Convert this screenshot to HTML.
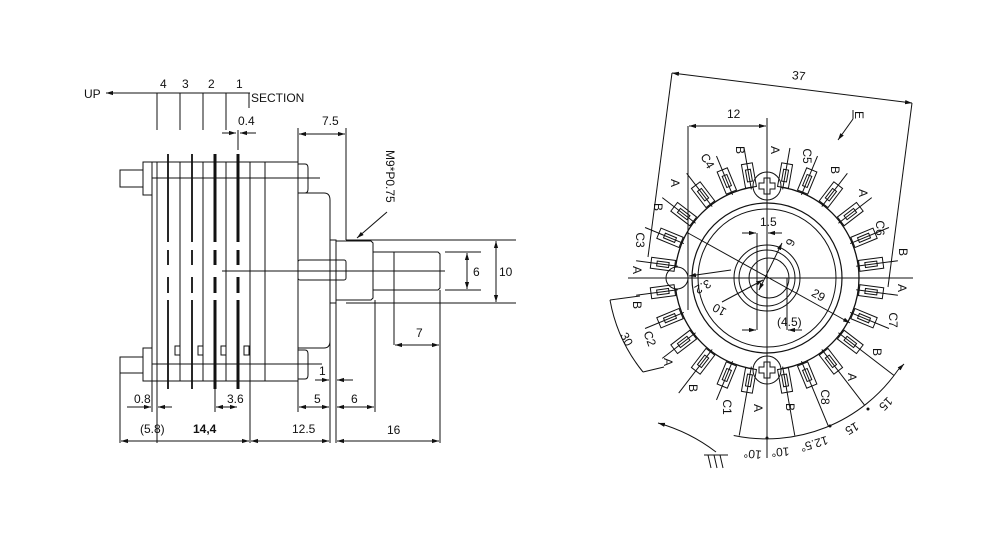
<!DOCTYPE html>
<html><head><meta charset="utf-8"><style>
html,body{margin:0;padding:0;background:#fff;}
svg{display:block;font-family:"Liberation Sans",sans-serif;}
text{font-size:12px;fill:#111;}
</style></head><body>
<svg width="1008" height="553" viewBox="0 0 1008 553" xmlns="http://www.w3.org/2000/svg">
<defs>
<marker id="a" viewBox="0 0 10 10" refX="10" refY="5" markerWidth="7" markerHeight="7" orient="auto-start-reverse"><path d="M0,2 L10,5 L0,8 z" fill="#111"/></marker>
</defs>
<g stroke="#111" stroke-width="1" fill="none">
<line x1="250" y1="93" x2="106" y2="93" marker-end="url(#a)"/>
<line x1="157" y1="93" x2="157" y2="130"/><line x1="180" y1="93" x2="180" y2="130"/>
<line x1="203" y1="93" x2="203" y2="130"/><line x1="226" y1="93" x2="226" y2="130"/>
<line x1="249" y1="93" x2="249" y2="108"/>
<line x1="222" y1="133" x2="236" y2="133" marker-end="url(#a)"/><line x1="256" y1="133" x2="240" y2="133" marker-end="url(#a)"/>
<line x1="238" y1="130" x2="238" y2="150"/>
<rect x="120" y="170" width="23" height="17"/><rect x="120" y="357" width="23" height="16"/>
<rect x="143" y="162" width="9" height="33"/><rect x="143" y="348" width="9" height="33"/>
<rect x="152" y="162" width="146" height="219"/>
<line x1="157" y1="162" x2="157" y2="381"/><line x1="180" y1="162" x2="180" y2="381"/>
<line x1="203" y1="162" x2="203" y2="381"/><line x1="226" y1="162" x2="226" y2="381"/>
<line x1="250" y1="162" x2="250" y2="381"/><line x1="265" y1="162" x2="265" y2="381"/>
<line x1="152" y1="178" x2="320" y2="178"/><line x1="152" y1="364" x2="322" y2="364"/>
<line x1="222" y1="271" x2="445" y2="271"/>
<rect x="175" y="346" width="5" height="9"/><rect x="198" y="346" width="5" height="9"/>
<rect x="221" y="346" width="5" height="9"/><rect x="244" y="346" width="5" height="9"/>
<path d="M298,164 H305 Q308,164 308,168 V189 Q308,193 305,193 H298"/>
<path d="M298,350 H305 Q308,350 308,354 V375 Q308,379 305,379 H298"/>
<path d="M298,193 H324 Q330,193 330,200 V341 Q330,348 324,348 H298"/>
<rect x="298" y="260" width="48" height="20" rx="2"/>
<rect x="330" y="240" width="6" height="63"/>
<path d="M336,241 H371 L373,243 V298 L371,300 H336"/>
<path d="M373,252 H438 L440,254 V288 L438,290 H373"/>
<line x1="394" y1="252" x2="394" y2="345"/>
<line x1="346" y1="240" x2="516" y2="240"/><line x1="346" y1="303" x2="516" y2="303"/>
<line x1="496" y1="241" x2="496" y2="302" marker-start="url(#a)" marker-end="url(#a)"/>
<line x1="445" y1="252" x2="481" y2="252"/><line x1="445" y1="290" x2="481" y2="290"/>
<line x1="467" y1="253" x2="467" y2="289" marker-start="url(#a)" marker-end="url(#a)"/>
<line x1="440" y1="290" x2="440" y2="443"/>
<line x1="395" y1="345" x2="439" y2="345" marker-start="url(#a)" marker-end="url(#a)"/>
<line x1="298" y1="128" x2="298" y2="162"/><line x1="346" y1="128" x2="346" y2="240"/>
<line x1="299" y1="134" x2="345" y2="134" marker-start="url(#a)" marker-end="url(#a)"/>
<line x1="387" y1="212" x2="357" y2="238" marker-end="url(#a)"/>
<line x1="315" y1="380" x2="329" y2="380" marker-end="url(#a)"/><line x1="353" y1="380" x2="337" y2="380" marker-end="url(#a)"/>
<line x1="120" y1="373" x2="120" y2="443"/>
<line x1="330" y1="303" x2="330" y2="443"/><line x1="336" y1="303" x2="336" y2="443"/>
<line x1="298" y1="381" x2="298" y2="412"/><line x1="375" y1="300" x2="375" y2="412"/>
<line x1="250" y1="381" x2="250" y2="443"/><line x1="215" y1="389" x2="215" y2="412"/>
<line x1="157" y1="381" x2="157" y2="443"/><line x1="152" y1="381" x2="152" y2="412"/>
<line x1="127" y1="407" x2="151" y2="407" marker-end="url(#a)"/><line x1="172" y1="407" x2="158" y2="407" marker-end="url(#a)"/>
<line x1="216" y1="407" x2="237" y2="407" marker-start="url(#a)" marker-end="url(#a)"/>
<line x1="299" y1="407" x2="329" y2="407" marker-start="url(#a)" marker-end="url(#a)"/>
<line x1="337" y1="407" x2="374" y2="407" marker-start="url(#a)" marker-end="url(#a)"/>
<line x1="121" y1="441" x2="249" y2="441" marker-start="url(#a)" marker-end="url(#a)"/>
<line x1="251" y1="441" x2="329" y2="441" marker-start="url(#a)" marker-end="url(#a)"/>
<line x1="337" y1="441" x2="439" y2="441" marker-start="url(#a)" marker-end="url(#a)"/>
</g>
<g stroke="#111" stroke-width="1.8" stroke-dasharray="88,8,15,12,16,7,89">
<line x1="168" y1="154" x2="168" y2="389"/><line x1="192" y1="154" x2="192" y2="389"/>
</g>
<g stroke="#111" stroke-width="3" stroke-dasharray="88,8,15,12,16,7,89">
<line x1="215" y1="154" x2="215" y2="389"/><line x1="238" y1="154" x2="238" y2="389"/>
</g>
<text x="84" y="98">UP</text>
<text x="160" y="88">4</text><text x="182" y="88">3</text><text x="208" y="88">2</text><text x="236" y="88">1</text>
<text x="251" y="102">SECTION</text>
<text x="238" y="125">0.4</text>
<text x="322" y="125">7.5</text>
<text transform="translate(386,150) rotate(90)">M9*P0.75</text>
<text x="473" y="276">6</text><text x="499" y="276">10</text>
<text x="416" y="337">7</text>
<text x="319" y="375">1</text>
<text x="134" y="403">0.8</text><text x="227" y="403">3.6</text>
<text x="314" y="403">5</text><text x="351" y="403">6</text>
<text x="140" y="433">(5.8)</text><text x="193" y="433" style="font-weight:bold">14,4</text>
<text x="292" y="433">12.5</text><text x="387" y="434">16</text>

<g stroke="#111" stroke-width="1" fill="none">
<circle cx="767" cy="278" r="92" stroke-width="1.3"/>
<circle cx="767" cy="278" r="75" stroke-width="1.2"/>
<circle cx="767" cy="278" r="69"/>
<circle cx="767" cy="278" r="33"/><circle cx="767" cy="278" r="28"/>
<circle cx="769" cy="278" r="20"/>
<circle cx="677" cy="278" r="11" fill="#fff"/>
<circle cx="767" cy="186" r="14" fill="#fff"/><circle cx="767" cy="370" r="14" fill="#fff"/>
<path d="M764,178 h6 v5 h5 v6 h-5 v5 h-6 v-5 h-5 v-6 h5 z"/>
<path d="M764,362 h6 v5 h5 v6 h-5 v5 h-6 v-5 h-5 v-6 h5 z"/>
<line x1="628" y1="278" x2="913" y2="278"/>
<line x1="767" y1="118" x2="767" y2="458"/>
<line x1="688" y1="126" x2="688" y2="310"/>
<line x1="689" y1="126" x2="766" y2="126" marker-start="url(#a)" marker-end="url(#a)"/>
<line x1="672" y1="73" x2="912" y2="103" marker-start="url(#a)" marker-end="url(#a)"/>
<line x1="672" y1="73" x2="648" y2="257"/><line x1="912" y1="103" x2="888" y2="287"/>
<line x1="853" y1="110" x2="853" y2="119"/>
<line x1="853" y1="119" x2="838" y2="140" marker-end="url(#a)"/>
<line x1="757" y1="233" x2="757" y2="330"/><line x1="787" y1="278" x2="787" y2="330"/>
<line x1="742" y1="233" x2="756" y2="233" marker-end="url(#a)"/><line x1="782" y1="233" x2="768" y2="233" marker-end="url(#a)"/>
<line x1="742" y1="330" x2="756" y2="330" marker-end="url(#a)"/><line x1="802" y1="330" x2="788" y2="330" marker-end="url(#a)"/>
<line x1="688" y1="233" x2="850" y2="323" marker-end="url(#a)"/>
<line x1="722" y1="302" x2="763" y2="280" marker-end="url(#a)"/>
<line x1="782" y1="243" x2="759" y2="290" marker-start="url(#a)" marker-end="url(#a)"/>
<line x1="731" y1="270" x2="689" y2="276" marker-end="url(#a)"/>
<g>
<g transform="rotate(10 767 278)"><rect x="761.5" y="162" width="11" height="24"/><rect x="764.5" y="168" width="5" height="12"/><line x1="767" y1="188" x2="767" y2="146"/></g>
<g transform="rotate(22.5 767 278)"><rect x="761.5" y="161" width="11" height="24"/><rect x="764.5" y="167" width="5" height="12"/><line x1="767" y1="188" x2="767" y2="146"/></g>
<g transform="rotate(37.5 767 278)"><rect x="761.5" y="161" width="11" height="24"/><rect x="764.5" y="167" width="5" height="12"/><line x1="767" y1="188" x2="767" y2="146"/></g>
<g transform="rotate(52.5 767 278)"><rect x="761.5" y="161" width="11" height="24"/><rect x="764.5" y="167" width="5" height="12"/><line x1="767" y1="188" x2="767" y2="146"/></g>
<g transform="rotate(67.5 767 278)"><rect x="761.5" y="161" width="11" height="24"/><rect x="764.5" y="167" width="5" height="12"/><line x1="767" y1="188" x2="767" y2="146"/></g>
<g transform="rotate(82.5 767 278)"><rect x="761.5" y="161" width="11" height="24"/><rect x="764.5" y="167" width="5" height="12"/><line x1="767" y1="188" x2="767" y2="146"/></g>
<g transform="rotate(97.5 767 278)"><rect x="761.5" y="161" width="11" height="24"/><rect x="764.5" y="167" width="5" height="12"/><line x1="767" y1="188" x2="767" y2="146"/></g>
<g transform="rotate(112.5 767 278)"><rect x="761.5" y="161" width="11" height="24"/><rect x="764.5" y="167" width="5" height="12"/><line x1="767" y1="188" x2="767" y2="146"/></g>
<g transform="rotate(127.5 767 278)"><rect x="761.5" y="161" width="11" height="24"/><rect x="764.5" y="167" width="5" height="12"/><line x1="767" y1="188" x2="767" y2="118"/></g>
<g transform="rotate(142.5 767 278)"><rect x="761.5" y="161" width="11" height="24"/><rect x="764.5" y="167" width="5" height="12"/><line x1="767" y1="188" x2="767" y2="118"/></g>
<g transform="rotate(157.5 767 278)"><rect x="761.5" y="161" width="11" height="24"/><rect x="764.5" y="167" width="5" height="12"/><line x1="767" y1="188" x2="767" y2="118"/></g>
<g transform="rotate(170 767 278)"><rect x="761.5" y="162" width="11" height="24"/><rect x="764.5" y="168" width="5" height="12"/><line x1="767" y1="188" x2="767" y2="118"/></g>
<g transform="rotate(190 767 278)"><rect x="761.5" y="162" width="11" height="24"/><rect x="764.5" y="168" width="5" height="12"/><line x1="767" y1="188" x2="767" y2="118"/></g>
<g transform="rotate(202.5 767 278)"><rect x="761.5" y="161" width="11" height="24"/><rect x="764.5" y="167" width="5" height="12"/><line x1="767" y1="188" x2="767" y2="146"/></g>
<g transform="rotate(217.5 767 278)"><rect x="761.5" y="161" width="11" height="24"/><rect x="764.5" y="167" width="5" height="12"/><line x1="767" y1="188" x2="767" y2="133"/></g>
<g transform="rotate(232.5 767 278)"><rect x="761.5" y="161" width="11" height="24"/><rect x="764.5" y="167" width="5" height="12"/><line x1="767" y1="188" x2="767" y2="146"/></g>
<g transform="rotate(247.5 767 278)"><rect x="761.5" y="161" width="11" height="24"/><rect x="764.5" y="167" width="5" height="12"/><line x1="767" y1="188" x2="767" y2="146"/></g>
<g transform="rotate(262.5 767 278)"><rect x="761.5" y="161" width="11" height="24"/><rect x="764.5" y="167" width="5" height="12"/><line x1="767" y1="188" x2="767" y2="146"/></g>
<g transform="rotate(277.5 767 278)"><rect x="761.5" y="161" width="11" height="24"/><rect x="764.5" y="167" width="5" height="12"/><line x1="767" y1="188" x2="767" y2="146"/></g>
<g transform="rotate(292.5 767 278)"><rect x="761.5" y="161" width="11" height="24"/><rect x="764.5" y="167" width="5" height="12"/><line x1="767" y1="188" x2="767" y2="146"/></g>
<g transform="rotate(307.5 767 278)"><rect x="761.5" y="161" width="11" height="24"/><rect x="764.5" y="167" width="5" height="12"/><line x1="767" y1="188" x2="767" y2="146"/></g>
<g transform="rotate(322.5 767 278)"><rect x="761.5" y="161" width="11" height="24"/><rect x="764.5" y="167" width="5" height="12"/><line x1="767" y1="188" x2="767" y2="146"/></g>
<g transform="rotate(337.5 767 278)"><rect x="761.5" y="161" width="11" height="24"/><rect x="764.5" y="167" width="5" height="12"/><line x1="767" y1="188" x2="767" y2="146"/></g>
<g transform="rotate(350 767 278)"><rect x="761.5" y="162" width="11" height="24"/><rect x="764.5" y="168" width="5" height="12"/><line x1="767" y1="188" x2="767" y2="146"/></g>
</g>
<line x1="767" y1="384" x2="767" y2="438"/>
<path d="M733.7,435.5 A160,160 0 0 0 898,370"/>
<line x1="898" y1="370" x2="904" y2="364" marker-end="url(#a)"/>
<path d="M610,300 A158,158 0 0 0 643,372"/>
<line x1="610" y1="300" x2="640" y2="296"/><line x1="643" y1="372" x2="664" y2="367"/>
<path d="M716,452 Q690,432 658,423" marker-end="url(#a)"/>
<line x1="704" y1="455" x2="728" y2="455"/>
<line x1="708" y1="455" x2="711" y2="468"/><line x1="714" y1="455" x2="717" y2="468"/><line x1="720" y1="455" x2="723" y2="468"/>
</g>
<g fill="#111"><circle cx="767" cy="438" r="1.5"/><circle cx="830" cy="426" r="1.5"/><circle cx="868" cy="409" r="1.5"/></g>
<text x="792" y="80" transform="rotate(7 800 76)">37</text>
<text x="727" y="118">12</text>
<text x="856" y="120" transform="rotate(90 860 115)">E</text>
<text x="760" y="226">1.5</text>
<text x="777" y="326">(4.5)</text>
<text x="786" y="247" transform="rotate(115 790 243)">6</text>
<text x="697" y="290" transform="rotate(150 704 286)">3.2</text>
<text x="714" y="314" transform="rotate(210 720 310)">10</text>
<text x="812" y="300" transform="rotate(30 820 295)">29</text>
<text x="620" y="345" transform="rotate(62 628 340)">30</text>
<g>
<text transform="translate(736,150) rotate(90)" text-anchor="middle">B</text>
<text transform="translate(771,150) rotate(90)" text-anchor="middle">A</text>
<text transform="translate(803,156) rotate(90)" text-anchor="middle">C5</text>
<text transform="translate(831,170) rotate(90)" text-anchor="middle">B</text>
<text transform="translate(859,193) rotate(90)" text-anchor="middle">A</text>
<text transform="translate(876,228) rotate(90)" text-anchor="middle">C6</text>
<text transform="translate(899,252) rotate(90)" text-anchor="middle">B</text>
<text transform="translate(898,288) rotate(90)" text-anchor="middle">A</text>
<text transform="translate(889,320) rotate(90)" text-anchor="middle">C7</text>
<text transform="translate(873,352) rotate(90)" text-anchor="middle">B</text>
<text transform="translate(848,377) rotate(90)" text-anchor="middle">A</text>
<text transform="translate(821,397) rotate(90)" text-anchor="middle">C8</text>
<text transform="translate(786,407) rotate(90)" text-anchor="middle">B</text>
<text transform="translate(754,408) rotate(90)" text-anchor="middle">A</text>
<text transform="translate(723,407) rotate(90)" text-anchor="middle">C1</text>
<text transform="translate(689,388) rotate(90)" text-anchor="middle">B</text>
<text transform="translate(664,362) rotate(90)" text-anchor="middle">A</text>
<text transform="translate(646,340) rotate(70)" text-anchor="middle">C2</text>
<text transform="translate(633,305) rotate(90)" text-anchor="middle">B</text>
<text transform="translate(633,270) rotate(90)" text-anchor="middle">A</text>
<text transform="translate(636,240) rotate(90)" text-anchor="middle">C3</text>
<text transform="translate(654,207) rotate(90)" text-anchor="middle">B</text>
<text transform="translate(671,183) rotate(90)" text-anchor="middle">A</text>
<text transform="translate(704,163) rotate(60)" text-anchor="middle">C4</text>
<text transform="translate(753,450) rotate(185)" text-anchor="middle">10°</text>
<text transform="translate(780,448) rotate(175)" text-anchor="middle">10°</text>
<text transform="translate(813,440) rotate(163)" text-anchor="middle">12.5°</text>
<text transform="translate(850,425) rotate(150)" text-anchor="middle">15</text>
<text transform="translate(883,401) rotate(135)" text-anchor="middle">15</text>
</g>
</svg>
</body></html>
